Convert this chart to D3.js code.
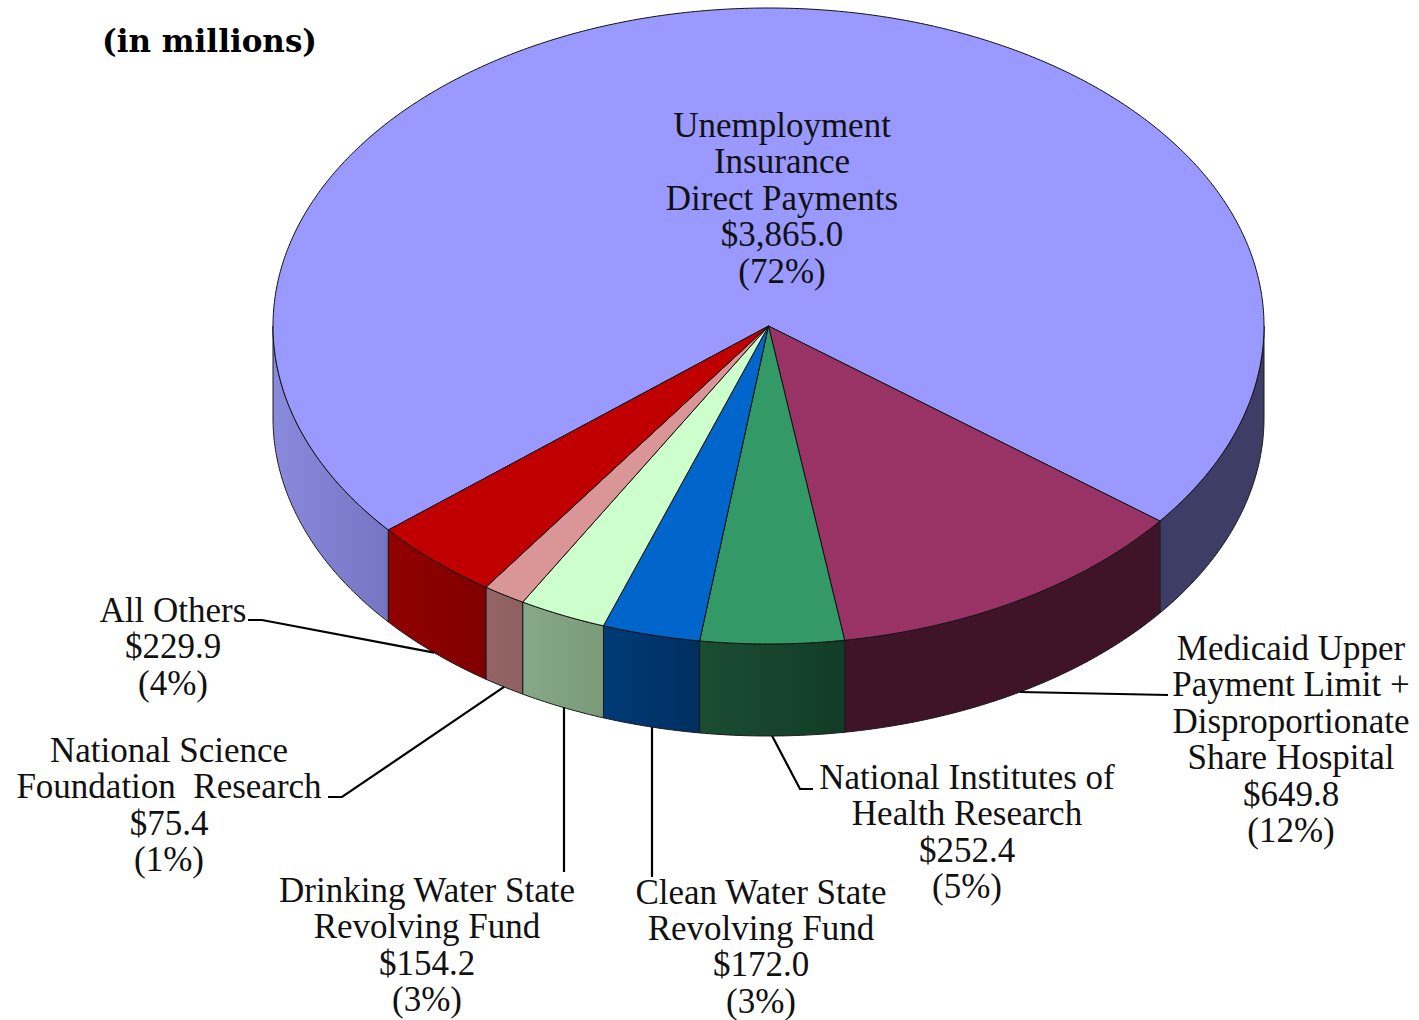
<!DOCTYPE html>
<html>
<head>
<meta charset="utf-8">
<script src="https://cdn.jsdelivr.net/npm/d3@7"></script>
<style>
  body { margin: 0; background: #fff; }
  text { font-family: "Liberation Serif", serif; font-size: 35px; fill: #111; text-anchor: middle; }
  .title { font-family: "DejaVu Serif", serif; font-size: 31px; font-weight: bold; text-anchor: start; fill: #000; }
</style>
</head>
<body>
<svg id="chart" width="1419" height="1020"></svg>
<script>
// slices, clockwise starting with the big one
var categories = ["Unemployment Insurance Direct Payments", "Medicaid Upper Payment Limit + Disproportionate Share Hospital",
    "National Institutes of Health Research", "Clean Water State Revolving Fund", "Drinking Water State Revolving Fund",
    "National Science Foundation Research", "All Others"];
var values = [3865.0, 649.8, 252.4, 172.0, 154.2, 75.4, 229.9];
var percents = [72, 12, 5, 3, 3, 1, 4];
var nameLines = [
    ["Unemployment", "Insurance", "Direct Payments"],
    ["Medicaid Upper", "Payment Limit +", "Disproportionate", "Share Hospital"],
    ["National Institutes of", "Health Research"],
    ["Clean Water State", "Revolving Fund"],
    ["Drinking Water State", "Revolving Fund"],
    ["National Science", "Foundation\u00a0\u00a0Research"],
    ["All Others"]
];
var topColors = ["#9999ff", "#993366", "#339966", "#0066cc", "#ccffcc", "#da9696", "#c00000"];
// wall shading per visible piece, left colour then right colour
var sideColors = [
    [["#8a8ade", "#7575c2"], ["#3d3d66", "#3d3d66"]],
    [["#3f1428", "#3f1428"]],
    [["#1b4d33", "#113c25"]],
    [["#003b78", "#002f5f"]],
    [["#88a987", "#7a9a7a"]],
    [["#946464", "#8f6060"]],
    [["#920000", "#800000"]]
];

// layout of the pie
var cx = 768.5, cy = 326, rx = 495.5, ry = 318, depth = 92;
var startDeg = -129.9;
var labelX = [782, 1291, 967, 761, 427, 169, 173];
var labelY = [137, 660, 789, 903.5, 902, 762, 622];
var leaderEnds = [
    null,
    [[1168, 695]],
    [[800, 789], [813, 789]],
    [[652, 877]],
    [[564, 872]],
    [[342, 797], [328, 797]],
    [[262, 620], [248, 620]]
];
var leaderVertical = [false, false, false, true, true, false, false];
var lineStep = 36.4;

var x = d3.scaleLinear().domain([-1, 1]).range([cx - rx, cx + rx]);
var y = d3.scaleLinear().domain([-1, 1]).range([cy - ry, cy + ry]);

var svg = d3.select("#chart");
var defs = svg.append("defs");

var start = startDeg * Math.PI / 180;
var pie = d3.pie().sort(null).startAngle(start).endAngle(start + 2 * Math.PI);
var arcs = pie(values);

function rimPoint(a, drop) {
    return [x(Math.sin(a)), y(-Math.cos(a)) + (drop || 0)];
}

function sampleAngles(a0, a1) {
    var n = Math.max(2, Math.ceil((a1 - a0) / 0.01));
    return d3.range(n + 1).map(function(i) { return a0 + (a1 - a0) * i / n; });
}

var line = d3.line();

// parts of [a0,a1] on the front half of the ellipse, where the wall shows
function visibleRanges(a0, a1) {
    var out = [];
    for (var k = -1; k <= 1; k++) {
        var lo = Math.PI / 2 + k * 2 * Math.PI, hi = 3 * Math.PI / 2 + k * 2 * Math.PI;
        var s = Math.max(a0, lo), e = Math.min(a1, hi);
        if (s < e) out.push([s, e]);
    }
    return out;
}

var walls = svg.append("g");
arcs.forEach(function(d, i) {
    visibleRanges(d.startAngle, d.endAngle).forEach(function(r, j) {
        var angles = sampleAngles(r[0], r[1]);
        var upper = angles.map(function(a) { return rimPoint(a, 0); });
        var lower = angles.slice().reverse().map(function(a) { return rimPoint(a, depth); });
        var xs = upper.map(function(p) { return p[0]; });
        var id = "wall" + i + "_" + j;
        var colors = sideColors[i][j];
        var grad = defs.append("linearGradient").attr("id", id)
            .attr("gradientUnits", "userSpaceOnUse")
            .attr("x1", d3.min(xs)).attr("x2", d3.max(xs)).attr("y1", 0).attr("y2", 0);
        grad.append("stop").attr("offset", 0).attr("stop-color", colors[0]);
        grad.append("stop").attr("offset", 1).attr("stop-color", colors[1]);
        walls.append("path")
            .attr("d", line(upper.concat(lower)) + "Z")
            .attr("fill", "url(#" + id + ")")
            .attr("stroke", "#1a1a1a")
            .attr("stroke-width", 1);
    });
});

var tops = svg.append("g");
arcs.forEach(function(d, i) {
    var pts = [[cx, cy]].concat(sampleAngles(d.startAngle, d.endAngle).map(function(a) { return rimPoint(a, 0); }));
    tops.append("path")
        .attr("d", line(pts) + "Z")
        .attr("fill", topColors[i])
        .attr("stroke", "#111")
        .attr("stroke-width", 1)
        .attr("stroke-linejoin", "round");
});

// leaders start on the bottom of the wall at the middle of the slice
var leaders = svg.append("g");
arcs.forEach(function(d, i) {
    if (!leaderEnds[i]) return;
    var mid = (d.startAngle + d.endAngle) / 2;
    var p = rimPoint(mid, depth);
    if (leaderVertical[i]) p[0] = leaderEnds[i][0][0];
    leaders.append("path")
        .attr("d", line([p].concat(leaderEnds[i])))
        .attr("fill", "none")
        .attr("stroke", "#000")
        .attr("stroke-width", 2.2);
});

var labels = svg.append("g");
categories.forEach(function(name, i) {
    var rows = nameLines[i].concat(["$" + d3.format(",.1f")(values[i]), "(" + percents[i] + "%)"]);
    var t = labels.append("text").attr("aria-label", name);
    rows.forEach(function(row, k) {
        t.append("tspan")
            .attr("x", labelX[i])
            .attr("y", labelY[i] + k * lineStep)
            .text(row);
    });
});

svg.append("text").attr("class", "title").attr("x", 102).attr("y", 52).text("(in millions)");
</script>
</body>
</html>
